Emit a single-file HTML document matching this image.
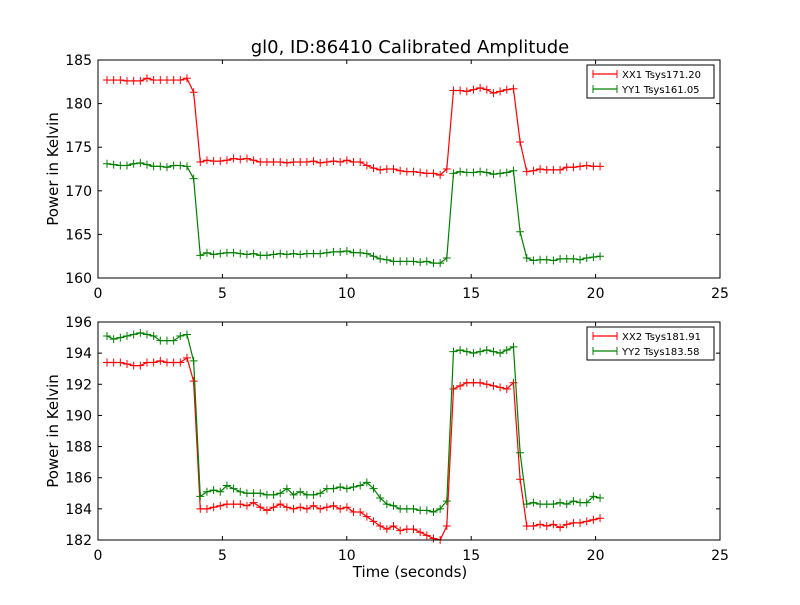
<!DOCTYPE html>
<html><head><meta charset="utf-8"><style>
body{margin:0;background:#fff}
svg{font-family:"DejaVu Sans","Liberation Sans",sans-serif}
</style></head><body>
<svg id="chart" width="800" height="600" viewBox="0 0 800 600">
<rect width="800" height="600" fill="#fff"/>
<text x="410" y="53" font-size="18" text-anchor="middle">gl0, ID:86410 Calibrated Amplitude</text>
<g id="top"></g>
<g id="bot"></g>
<text x="410" y="577" font-size="15" text-anchor="middle">Time (seconds)</text>
</svg>
<script>
const xTicks=[0,5,10,15,20,25];
const topTicks=[160,165,170,175,180,185];
const botTicks=[182,184,186,188,190,192,194,196];
const t0=0.362, dt=0.2678;
const xx1=[182.7,182.7,182.7,182.6,182.6,182.6,182.9,182.7,182.7,182.7,182.7,182.7,182.9,181.3,
173.3,173.5,173.4,173.4,173.5,173.7,173.6,173.7,173.5,173.3,173.3,173.3,173.3,173.2,173.3,173.3,173.3,173.4,173.2,173.3,173.4,173.3,173.5,173.3,173.3,
172.9,172.6,172.4,172.5,172.5,172.3,172.2,172.2,172.1,172.0,172.0,171.8,172.5,
181.5,181.5,181.4,181.6,181.8,181.6,181.2,181.4,181.6,181.7,175.6,172.2,
172.3,172.5,172.4,172.4,172.4,172.7,172.7,172.8,172.9,172.8,172.8];
const yy1=[173.1,173.0,172.9,172.9,173.1,173.2,173.0,172.8,172.8,172.7,172.9,172.9,172.8,171.4,
162.6,162.9,162.7,162.8,162.9,162.9,162.8,162.7,162.8,162.6,162.6,162.7,162.8,162.7,162.8,162.7,162.8,162.8,162.8,162.9,163.0,163.0,163.1,162.9,162.9,
162.8,162.5,162.2,162.1,161.9,161.9,161.9,161.9,161.8,161.9,161.7,161.7,162.3,
172.0,172.2,172.1,172.1,172.2,172.1,171.9,172.0,172.1,172.3,165.3,162.3,
162.0,162.1,162.1,162.0,162.2,162.2,162.2,162.1,162.3,162.4,162.5];
const xx2=[193.4,193.4,193.4,193.3,193.2,193.2,193.4,193.4,193.5,193.4,193.4,193.4,193.7,192.2,
184.0,184.0,184.1,184.2,184.3,184.3,184.3,184.2,184.4,184.1,183.9,184.1,184.3,184.1,184.0,184.1,184.0,184.2,184.0,184.1,184.2,184.0,184.1,183.8,183.8,
183.5,183.2,182.9,182.7,182.9,182.6,182.7,182.7,182.5,182.3,182.1,182.0,182.9,
191.7,191.9,192.1,192.1,192.1,192.0,191.9,191.8,191.7,192.1,185.9,182.9,
182.9,183.0,182.9,183.0,182.8,183.0,183.1,183.1,183.2,183.3,183.4];
const yy2=[195.1,194.9,195.0,195.1,195.2,195.3,195.2,195.1,194.8,194.8,194.8,195.1,195.2,193.5,
184.8,185.1,185.2,185.1,185.5,185.3,185.1,185.0,185.0,185.0,184.9,184.9,185.0,185.3,184.9,185.1,184.9,184.9,185.0,185.3,185.3,185.4,185.3,185.4,185.5,
185.7,185.3,184.7,184.3,184.2,184.0,184.0,184.0,183.9,183.9,183.8,184.0,184.5,
194.1,194.2,194.1,194.0,194.1,194.2,194.1,194.0,194.2,194.4,187.6,184.3,
184.4,184.3,184.3,184.3,184.4,184.3,184.5,184.4,184.4,184.8,184.7];
const NS="http://www.w3.org/2000/svg";
function mk(tag,attrs,parent){const e=document.createElementNS(NS,tag);for(const k in attrs)e.setAttribute(k,attrs[k]);parent.appendChild(e);return e;}
const L=98,R=720;
const xs=v=>L+(v-0)/(25-0)*(R-L);
function panel(g,top,bottom,ymin,ymax,yt,series,legend){
  const ys=v=>bottom-(v-ymin)/(ymax-ymin)*(bottom-top);
  xTicks.forEach(v=>{const x=xs(v);
    const t1=mk('line',{x1:x,x2:x,y1:bottom,y2:bottom-4,stroke:'#000'},g);
    
    
    mk('line',{x1:x,x2:x,y1:top,y2:top+4,stroke:'#000'},g);
    const tx=mk('text',{x:x,y:bottom+20,'font-size':14,'text-anchor':'middle'},g);tx.textContent=v;
    
    
  });
  yt.forEach(v=>{const y=ys(v);
    const t1=mk('line',{x1:L,x2:L+4,y1:y,y2:y,stroke:'#000'},g);
    
    
    mk('line',{x1:R,x2:R-4,y1:y,y2:y,stroke:'#000'},g);
    const tx=mk('text',{x:L-6,y:y+5,'font-size':14,'text-anchor':'end'},g);tx.textContent=v;
    
    
  });
  const yl=mk('text',{x:0,y:0,'font-size':15,'text-anchor':'middle',transform:`translate(58,${(top+bottom)/2}) rotate(-90)`},g);
  yl.textContent='Power in Kelvin';
  
  
  series.forEach(s=>{
    const pts=s.data.map((v,i)=>[xs(t0+dt*i),ys(v)]);
    const pl=mk('polyline',{points:pts.map(p=>p.join(',')).join(' '),fill:'none',stroke:s.color,'stroke-width':1.2},g);
    
    
    const d=pts.map(p=>`M${p[0]-4},${p[1]}h8M${p[0]},${p[1]-4}v8`).join('');
    const mp=mk('path',{d:d,stroke:s.color,'stroke-width':1,fill:'none'},g);
    
    
  });
  const fr=mk('rect',{x:L,y:top,width:R-L,height:bottom-top,fill:'none',stroke:'#000','stroke-width':1},g);
  
  
  const lg=mk('g',{},g);
  
  
  mk('rect',{x:legend.x,y:legend.y,width:127,height:33,fill:'#fff',stroke:'#000','stroke-width':1},lg);
  series.forEach((s,i)=>{const y=legend.y+9+i*15;
    mk('line',{x1:legend.x+6,x2:legend.x+30,y1:y,y2:y,stroke:s.color,'stroke-width':1.2},lg);
    mk('path',{d:`M${legend.x+6},${y-4}v8M${legend.x+30},${y-4}v8`,stroke:s.color},lg);
    const tx=mk('text',{x:legend.x+35,y:y+4,'font-size':10},lg);tx.textContent=s.label;
    
    
  });
}
panel(document.getElementById('top'),60,278,160,185,topTicks,
 [{name:'xx1',data:xx1,color:'#ff0000',label:'XX1 Tsys171.20'},{name:'yy1',data:yy1,color:'#008000',label:'YY1 Tsys161.05'}],{x:587,y:65});
panel(document.getElementById('bot'),322,540,182,196,botTicks,
 [{name:'xx2',data:xx2,color:'#ff0000',label:'XX2 Tsys181.91'},{name:'yy2',data:yy2,color:'#008000',label:'YY2 Tsys183.58'}],{x:587,y:327});
</script>
</body></html>
